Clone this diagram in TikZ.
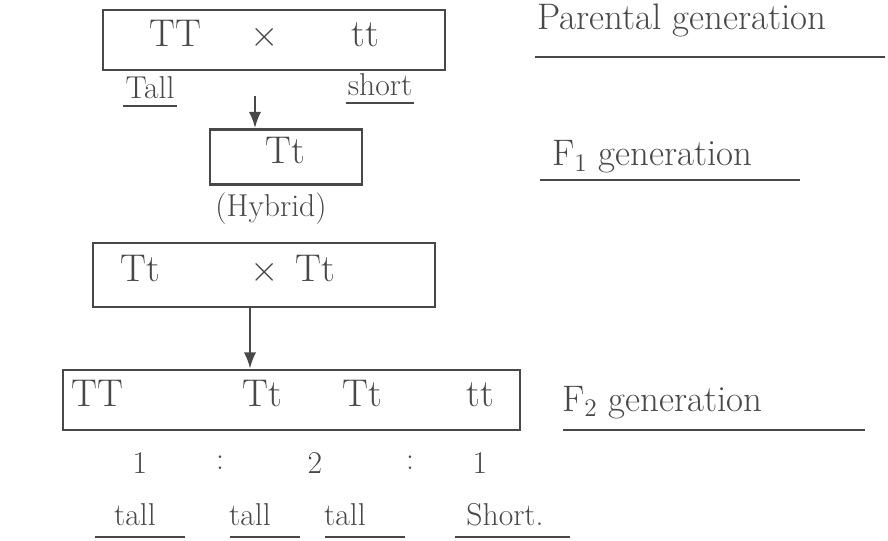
\documentclass[tikz,border=0pt]{standalone}
\usepackage{tikz}
\usetikzlibrary{arrows.meta,positioning}
\usepackage{xcolor}
\usepackage{amsmath}
\definecolor{pencil}{RGB}{72,72,72}

\begin{document}
\begin{tikzpicture}[
  box/.style={draw=pencil, line width=1.4pt, minimum height=12mm},
  gene/.style={text=pencil, font=\fontsize{22}{26}\selectfont, inner sep=0pt, text height=1.7ex, text depth=0pt},
  note/.style={text=pencil, font=\fontsize{21}{25}\selectfont, inner sep=1pt, anchor=west},
  small/.style={text=pencil, font=\fontsize{18}{22}\selectfont, inner sep=1pt},
  uline/.style={draw=pencil, line width=1.1pt},
  arrow/.style={-Latex, line width=1.4pt, draw=pencil}
]
\useasboundingbox (0,0) rectangle (17.76,10.8);

% parents
\node[box, minimum width=68.4mm] (pbox) at (5.48,10.0) {};
\node[gene] (pTT) at (3.5,10.0) {TT};
\node[gene] (px) at (5.3,10.0) {$\times$};
\node[gene] (ptt) at (7.3,10.0) {tt};
\node[small] (ptall) at (3.0,9.04) {Tall};
\node[small] (pshort) at (7.6,9.1) {short};
\draw[uline] ([yshift=-1mm]ptall.south west) -- ([yshift=-1mm]ptall.south east);
\draw[uline] ([yshift=-1mm]pshort.south west) -- ([yshift=-1mm]pshort.south east);
\node[note] (parlab) at (10.7,10.4) {Parental generation};
\draw[uline] (10.7,9.66) -- (17.7,9.66);

% F1
\node[box, minimum width=30.4mm, minimum height=11mm] (hbox) at (5.72,7.66) {};
\node[gene] (hTt) at (5.7,7.66) {Tt};
\node[small, below=1mm of hbox, xshift=-3mm] (hyb) {(Hybrid)};
\node[note] (f1lab) at (11.0,7.66) {F$_1$ generation};
\draw[uline] (10.8,7.2) -- (16.0,7.2);

\coordinate[below=5mm of pbox.south, xshift=-3.8mm] (a1);
\draw[arrow] (a1) -- (a1 |- hbox.north);

% selfing
\node[box, minimum width=68.4mm, minimum height=12.8mm] (sbox) at (5.28,5.3) {};
\node[gene] (sTt1) at (2.8,5.3) {Tt};
\node[gene] (sx) at (5.3,5.3) {$\times$};
\node[gene] (sTt2) at (6.3,5.3) {Tt};

% F2
\node[box, minimum width=91.4mm] (fbox) at (5.83,2.8) {};
\node[gene] (fTT) at (1.95,2.8) {TT};
\node[gene] (fTt1) at (5.24,2.8) {Tt};
\node[gene] (fTt2) at (7.24,2.8) {Tt};
\node[gene] (ftt) at (9.6,2.8) {tt};
\node[note] (f2lab) at (11.2,2.75) {F$_2$ generation};
\draw[uline] (11.26,2.2) -- (17.3,2.2);

\coordinate[xshift=-2.8mm] (a2) at (sbox.south);
\draw[arrow] (a2) -- (a2 |- fbox.north);

% ratio
\node[small] (r1) at (2.8,1.54) {1};
\node[small] (r2) at (4.4,1.54) {:};
\node[small] (r3) at (6.3,1.54) {2};
\node[small] (r4) at (8.2,1.54) {:};
\node[small] (r5) at (9.6,1.54) {1};

% phenotypes
\node[small] (t1) at (2.7,0.5) {tall};
\node[small] (t2) at (5.0,0.5) {tall};
\node[small] (t3) at (6.9,0.5) {tall};
\node[small] (t4) at (10.1,0.5) {Short.};
\draw[uline] (1.9,0.06) -- (3.7,0.06);
\draw[uline] (4.6,0.06) -- (6.0,0.06);
\draw[uline] (6.5,0.06) -- (8.1,0.06);
\draw[uline] (9.1,0.06) -- (11.4,0.06);

\end{tikzpicture}
\end{document}
